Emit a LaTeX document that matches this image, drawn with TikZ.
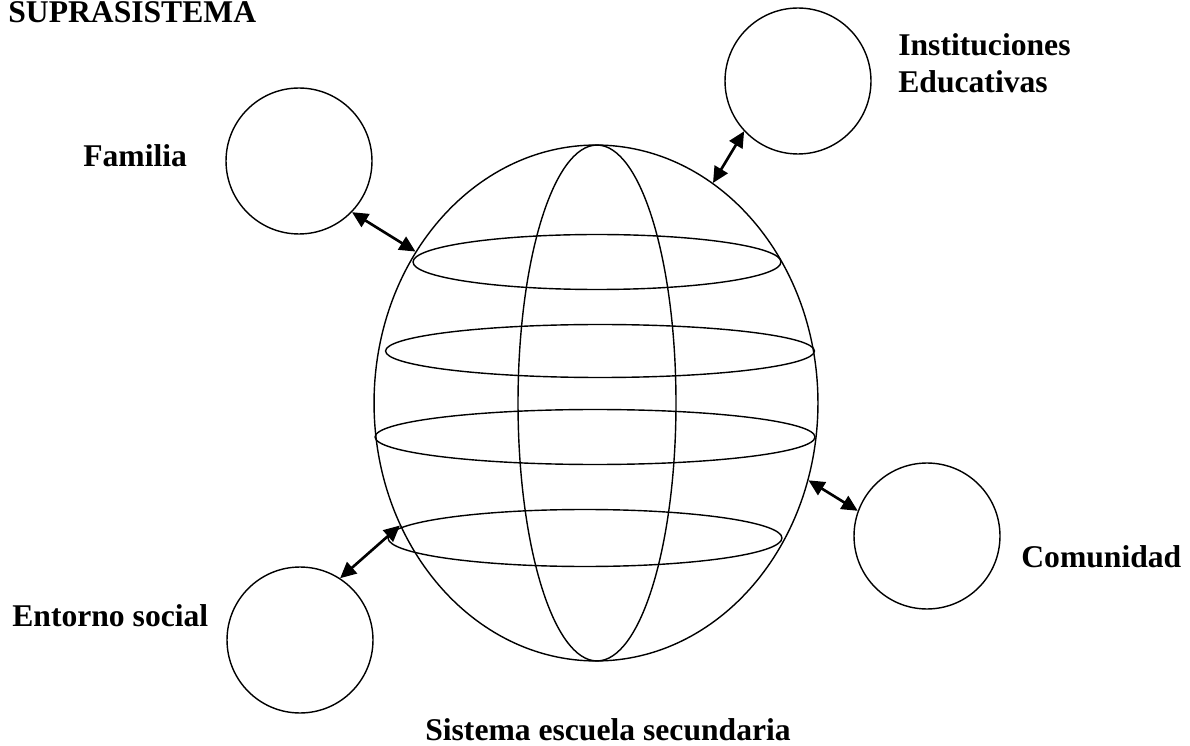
\documentclass[tikz,border=0pt]{standalone}
\usepackage{fontspec}
\setmainfont{Liberation Serif}
\usetikzlibrary{shapes.geometric,arrows.meta}
\begin{document}
\begin{tikzpicture}[x=0.02cm,y=-0.02cm,
  ln/.style={line width=0.8pt},
  smallc/.style={ln,draw,circle,inner sep=0pt,minimum size=2.92cm},
  ell/.style={ln,draw,ellipse,inner sep=0pt},
  lab/.style={font=\fontsize{18pt}{21pt}\selectfont\bfseries,inner sep=0pt,anchor=base west},
  dbl/.style={line width=1.5pt,{Triangle[length=0.32cm,width=0.3cm]}-{Triangle[length=0.32cm,width=0.3cm]}}]
\useasboundingbox (0,0) rectangle (1190,746);
% sphere
\node[ell,minimum width=8.88cm,minimum height=10.32cm] (sph) at (596,403) {};
\node[ell,minimum width=3.16cm,minimum height=10.32cm] (mer) at (597,403) {};
\node[ell,minimum width=7.36cm,minimum height=1.1cm] (e1) at (597,262) {};
\node[ell,minimum width=8.58cm,minimum height=1.06cm] (e2) at (600,351) {};
\node[ell,minimum width=8.8cm,minimum height=1.1cm] (e3) at (595,437) {};
\node[ell,minimum width=7.88cm,minimum height=1.14cm] (e4) at (585,538) {};
% small circles
\node[smallc] (fam) at (299,161) {};
\node[smallc] (ins) at (798,81) {};
\node[smallc] (com) at (927,536) {};
\node[smallc] (ent) at (300,640) {};
% arrows
\draw[dbl] (fam.-44) -- (sph.140);
\draw[dbl] (ins.223) -- (sph.62.6);
\draw[dbl] (com.160) -- (sph.-20.2);
\draw[dbl] (ent.57) -- (sph.212.4);
% labels
\node[lab] (tsup) at (8,23) {SUPRASISTEMA};
\node[lab] (tfam) at (83,167) {Familia};
\node[lab] (tins1) at (898,56) {Instituciones};
\node[lab] (tins2) at (898,93) {Educativas};
\node[lab] (tcom) at (1021,567) {Comunidad};
\node[lab] (tent) at (12,626) {Entorno social};
\node[lab,anchor=base] (tsis) at (608,740) {Sistema escuela secundaria};
\end{tikzpicture}
\end{document}
